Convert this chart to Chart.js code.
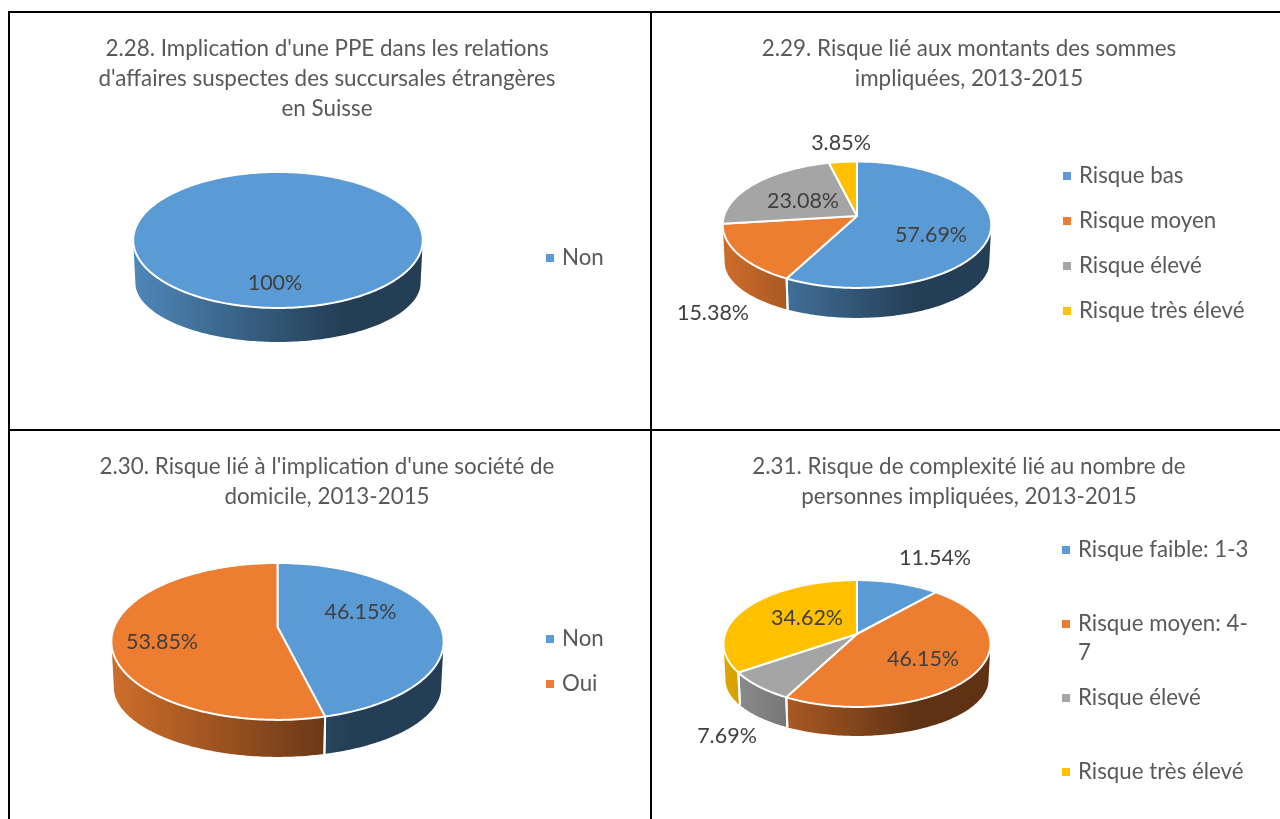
<!DOCTYPE html>
<html lang="fr">
<head>
<meta charset="utf-8">
<title>Risques 2013-2015</title>
<script src="https://cdn.jsdelivr.net/npm/chart.js@4"></script>
<style>
html,body{margin:0;padding:0;background:#fff;width:1280px;height:819px;overflow:hidden}
canvas{position:absolute;display:block}
.rule{position:absolute;background:#000}
</style>
</head>
<body>
<div class="rule" style="left:8px;top:11px;width:1272px;height:2px"></div>
<div class="rule" style="left:8px;top:429px;width:1272px;height:2px"></div>
<div class="rule" style="left:8px;top:11px;width:2px;height:808px"></div>
<div class="rule" style="left:650px;top:11px;width:2px;height:808px"></div>
<canvas id="c1"></canvas><canvas id="c2"></canvas><canvas id="c3"></canvas><canvas id="c4"></canvas>
<script>
// ---- data ----
const titles28 = ["2.28. Implication d'une PPE dans les relations", "d'affaires suspectes des succursales étrangères", "en Suisse"];
const labels28 = ["Non"];
const values28 = [100];
const text28 = ["100%"];

const titles29 = ["2.29. Risque lié aux montants des sommes", "impliquées, 2013-2015"];
const labels29 = ["Risque bas", "Risque moyen", "Risque élevé", "Risque très élevé"];
const values29 = [57.69, 15.38, 23.08, 3.85];
const text29 = ["57.69%", "15.38%", "23.08%", "3.85%"];

const titles30 = ["2.30. Risque lié à l'implication d'une société de", "domicile, 2013-2015"];
const labels30 = ["Non", "Oui"];
const values30 = [46.15, 53.85];
const text30 = ["46.15%", "53.85%"];

const titles31 = ["2.31. Risque de complexité lié au nombre de", "personnes impliquées, 2013-2015"];
const labels31 = ["Risque faible: 1-3", ["Risque moyen: 4-", "7"], "Risque élevé", "Risque très élevé"];
const values31 = [11.54, 46.15, 7.69, 34.62];
const text31 = ["11.54%", "46.15%", "7.69%", "34.62%"];

const palette = ["#5B9BD5", "#ED7D31", "#A5A5A5", "#FFC000"];

// ---- layout (page pixels) ----
const FONT = "Lato";
const TITLE_PX = 22.4, LEGEND_PX = 22.3, VALUE_PX = 21.5;
const panels = [
 {id:"c1", box:[10,13,634,417], titleTop:21, titles:titles28, labels:labels28, values:values28, text:text28,
  cx:278, apex:230.6, R:143.4, K:66.7, p:.138, depth:34,
  labelAt:[[275,283]], legX:546, legY:[258]},
 {id:"c2", box:[652,13,634,417], titleTop:21, titles:titles29, labels:labels29, values:values29, text:text29,
  cx:857, apex:216, R:133, K:62, p:.138, depth:30,
  labelAt:[[931,235],[713,313],[803,201],[841,143]], legX:1063, legY:[176,221,266,311]},
 {id:"c3", box:[10,431,634,388], titleTop:21, titles:titles30, labels:labels30, values:values30, text:text30,
  cx:277.5, apex:627, R:163.3, K:75.8, p:.184, depth:37,
  labelAt:[[360.5,612],[162,642]], legX:546, legY:[639,684]},
 {id:"c4", box:[652,431,634,388], titleTop:21, titles:titles31, labels:labels31, values:values31, text:text31,
  cx:857, apex:634, R:132, K:62, p:.15, depth:29,
  labelAt:[[935,558],[923,659],[727,736],[807,618]], legX:1062, legY:[550,624,698,772], legLine:29}
];

function shade(hex, m){
  const n = parseInt(hex.slice(1),16);
  return "rgb("+[(n>>16)&255,(n>>8)&255,n&255].map(c=>Math.round(c*m)).join(",")+")";
}

const pie3d = {
  id:"pie3d",
  beforeDatasetsDraw(chart, args, o){
    const c = chart.ctx, P = o.panel, ox = P.box[0], oy = P.box[1];
    const pt = a => {
      const u = Math.cos(a), v = Math.sin(a), d = 1 - P.p*v;
      return [P.cx-ox + P.R*u/d, P.apex-oy + P.K*v/d, v];
    };
    const low = q => [P.cx-ox + (q[0]-(P.cx-ox))*0.985,
                      q[1]+P.depth*(1+.3*(1-Math.max(q[2],0)))];
    const D = Math.PI/180, fMin = Math.asin(P.p), fMax = Math.PI-fMin;
    const arcs = chart.getDatasetMeta(0).data;
    const colors = chart.data.datasets[0].backgroundColor;
    const left = P.cx-ox-P.R*1.01, width = P.R*2.02;
    c.save();
    // side walls
    arcs.forEach((el,i)=>{
      const s = Math.max(el.startAngle,fMin), e = Math.min(el.endAngle,fMax);
      if(e<=s) return;
      const g = c.createLinearGradient(left,0,left+width,0);
      g.addColorStop(0,shade(colors[i],.87));
      g.addColorStop(.72,shade(colors[i],.40));
      g.addColorStop(1,shade(colors[i],.40));
      c.fillStyle = g;
      c.beginPath();
      const n = Math.ceil((e-s)/D);
      for(let k=0;k<=n;k++){const q=pt(s+(e-s)*k/n); k?c.lineTo(q[0],q[1]):c.moveTo(q[0],q[1]);}
      for(let k=n;k>=0;k--){const q=low(pt(s+(e-s)*k/n)); c.lineTo(q[0],q[1]);}
      c.closePath(); c.fill();
    });
    // white seams on the wall
    c.strokeStyle="#fff"; c.lineWidth=2;
    if(arcs.length>1) arcs.forEach(el=>{
      [el.startAngle,el.endAngle].forEach(a=>{
        if(a>fMin && a<fMax){
          const q=pt(a), b=low(q);
          c.beginPath(); c.moveTo(q[0],q[1]); c.lineTo(b[0],b[1]); c.stroke();
        }
      });
    });
    // top faces
    c.lineJoin="round";
    arcs.forEach((el,i)=>{
      const s=el.startAngle, e=el.endAngle, n=Math.ceil((e-s)/D);
      c.beginPath();
      if(arcs.length>1) c.moveTo(P.cx-ox,P.apex-oy);
      for(let k=0;k<=n;k++){const q=pt(s+(e-s)*k/n); (k||arcs.length>1)?c.lineTo(q[0],q[1]):c.moveTo(q[0],q[1]);}
      c.closePath();
      c.fillStyle=colors[i]; c.fill(); c.stroke();
    });
    c.restore();
    return false;
  },
  afterDraw(chart, args, o){
    const c = chart.ctx, P = o.panel, ox = P.box[0], oy = P.box[1];
    const colors = chart.data.datasets[0].backgroundColor;
    c.save();
    c.textBaseline="middle";
    // value labels
    c.font = VALUE_PX+"px "+FONT;
    c.textAlign="center"; c.fillStyle="#404040";
    P.text.forEach((t,i)=>c.fillText(t,P.labelAt[i][0]-ox,P.labelAt[i][1]-oy));
    // legend
    c.font = LEGEND_PX+"px "+FONT;
    c.textAlign="left";
    chart.data.labels.forEach((lab,i)=>{
      const y=P.legY[i]-oy;
      c.fillStyle=colors[i];
      c.fillRect(P.legX-ox,y-4,8,8);
      c.fillStyle="#595959";
      (Array.isArray(lab)?lab:[lab]).forEach((ln,j)=>c.fillText(ln,P.legX+16-ox,y+j*(P.legLine||0)));
    });
    c.restore();
  }
};

panels.forEach(P=>{
  const cv=document.getElementById(P.id);
  cv.width=P.box[2]; cv.height=P.box[3];
  cv.style.left=P.box[0]+"px"; cv.style.top=P.box[1]+"px";
  cv.style.width=P.box[2]+"px"; cv.style.height=P.box[3]+"px";
  new Chart(cv,{
    type:"pie",
    data:{labels:P.labels,datasets:[{data:P.values,backgroundColor:palette.slice(0,P.values.length),borderColor:"#fff",borderWidth:2}]},
    plugins:[pie3d],
    options:{
      responsive:false,animation:false,events:[],
      plugins:{
        legend:{display:false},
        tooltip:{enabled:false},
        title:{display:true,text:P.titles,color:"#595959",
               font:{family:FONT,size:TITLE_PX,weight:"normal",lineHeight:30/TITLE_PX},
               padding:{top:P.titleTop,bottom:10}},
        pie3d:{panel:P}
      }
    }
  });
});
</script>
</body>
</html>
